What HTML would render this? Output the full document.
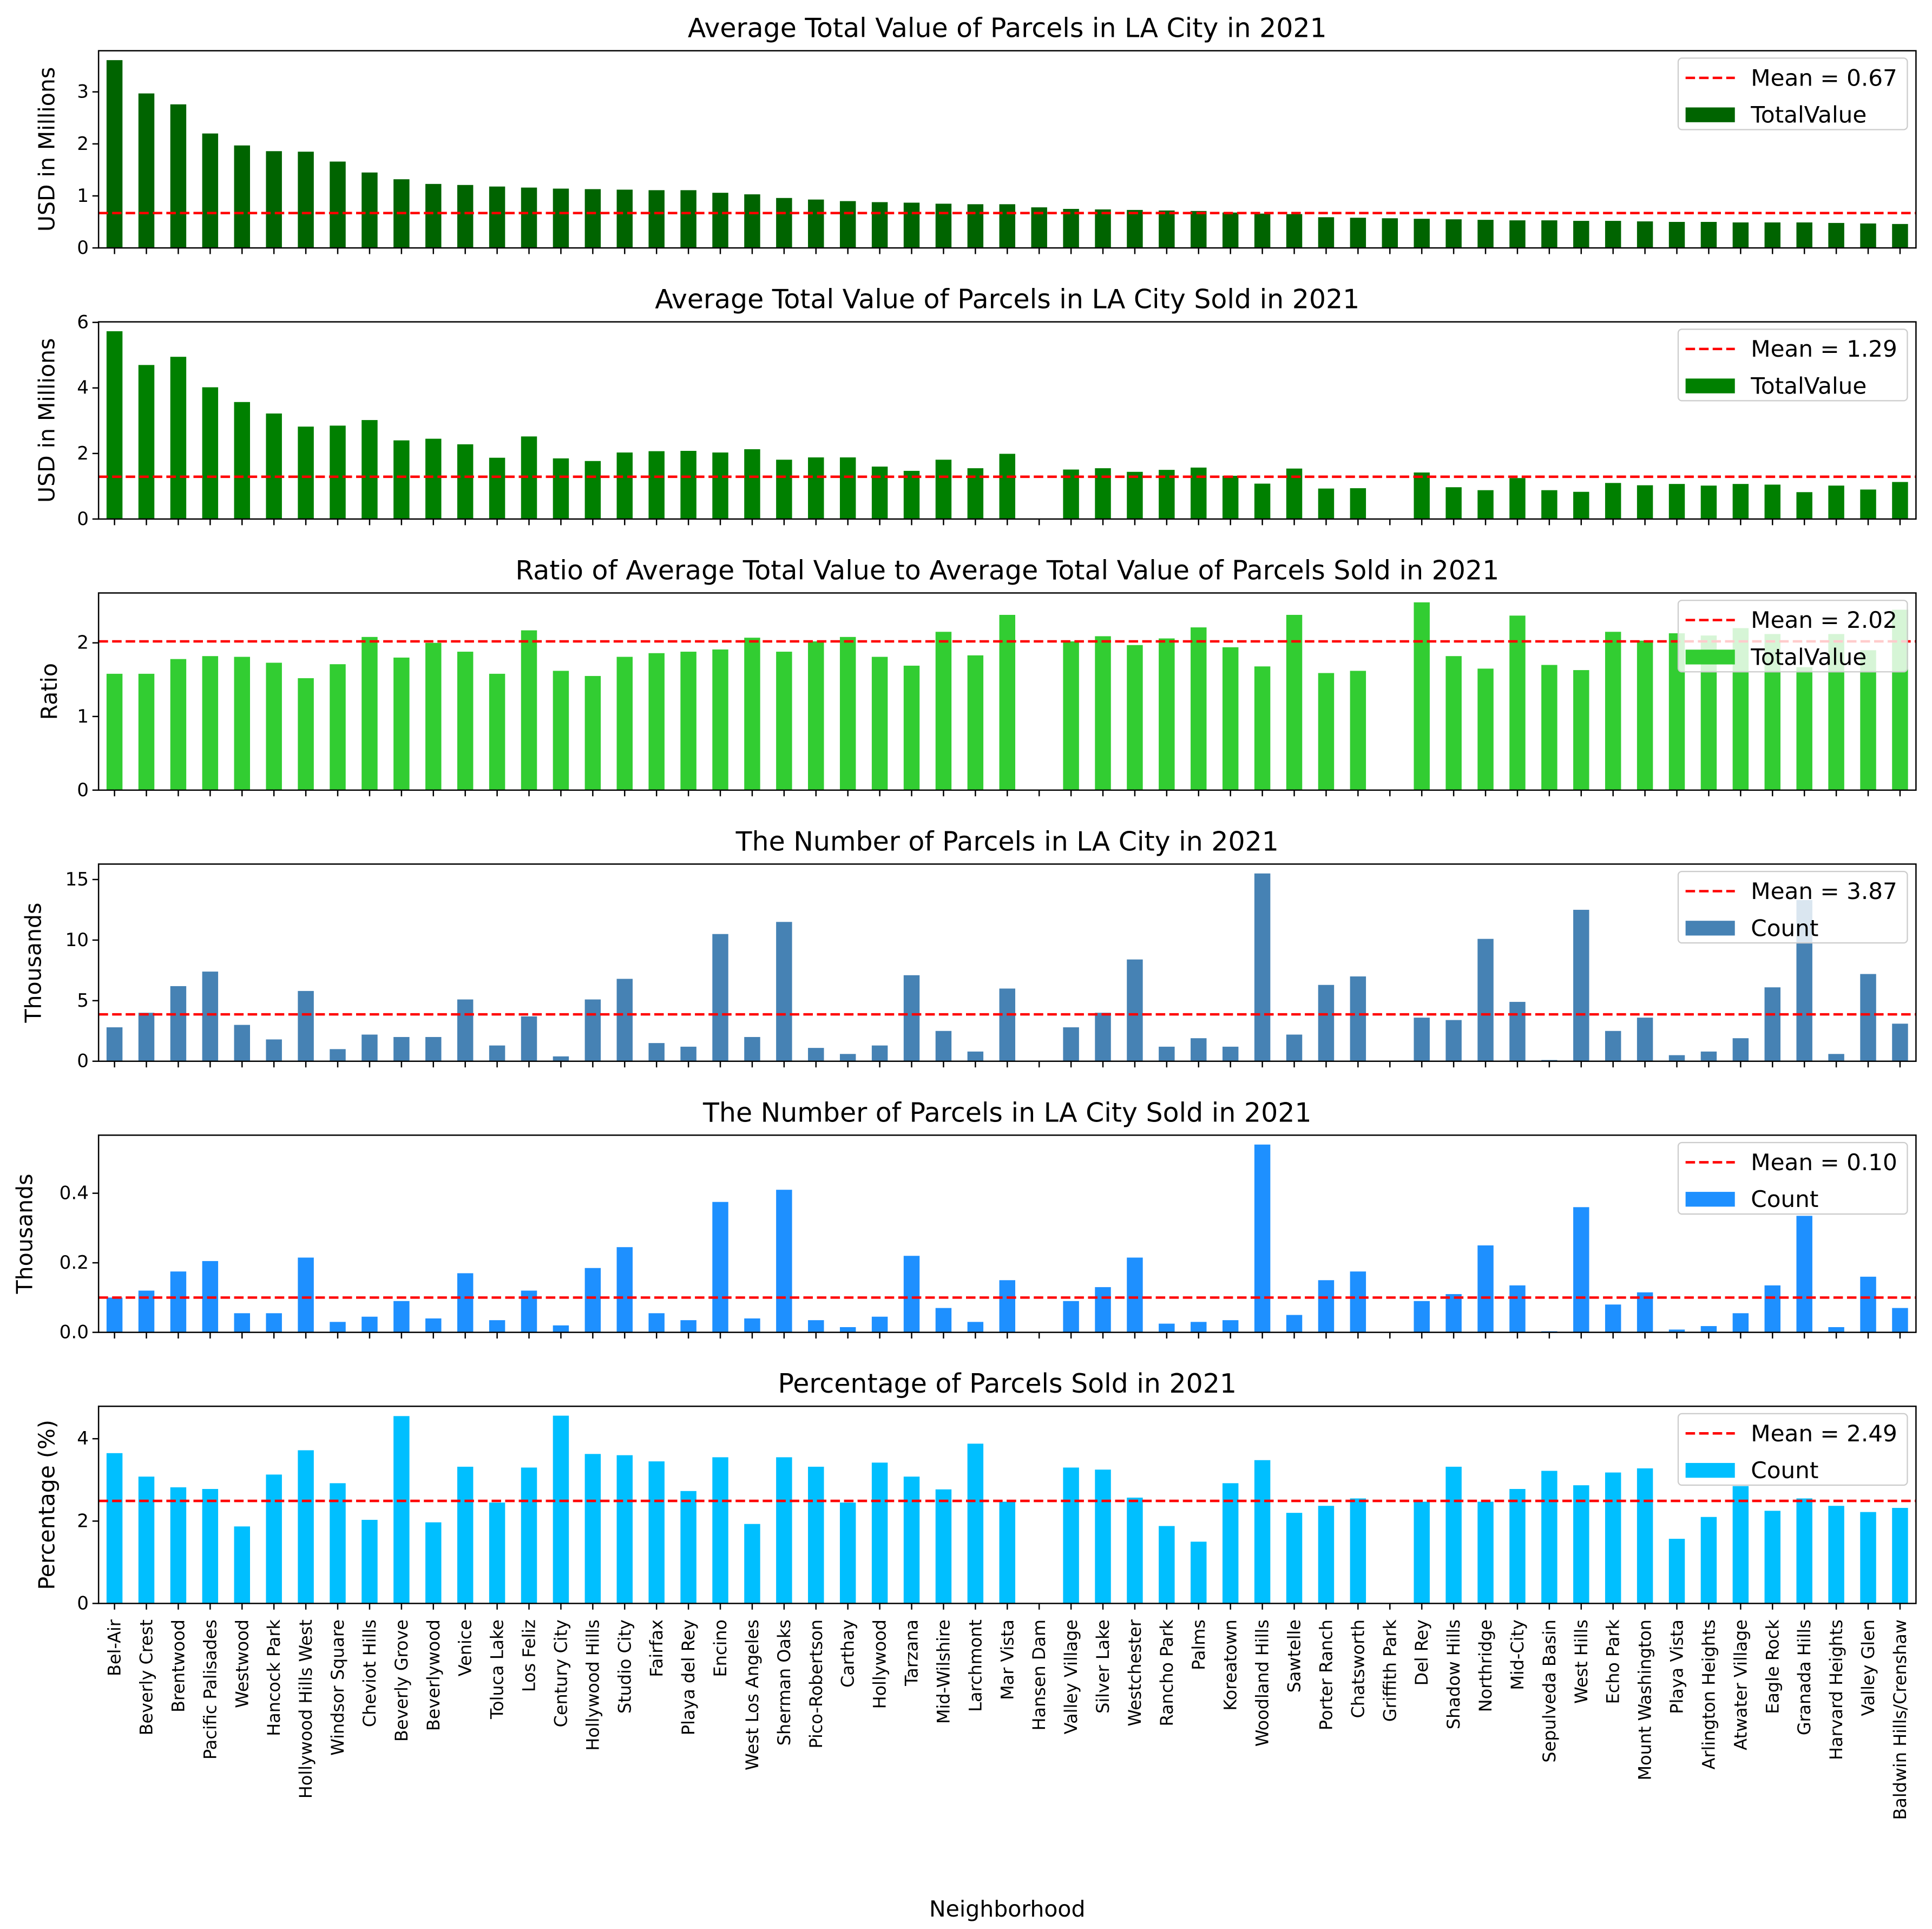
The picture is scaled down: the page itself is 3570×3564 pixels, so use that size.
<!DOCTYPE html>
<html><head><meta charset="utf-8">
<style>
html,body{margin:0;padding:0;background:#fff;}
svg{display:block;font-family:"DejaVu Sans","Liberation Sans",sans-serif;}
</style></head>
<body>
<svg id="fig" xmlns="http://www.w3.org/2000/svg" width="3570" height="3564" viewBox="0 0 1568 1565">
<rect x="0" y="0" width="1568" height="1565" fill="#fff"/>
</svg>
<script>
const categories = ["Bel-Air","Beverly Crest","Brentwood","Pacific Palisades","Westwood","Hancock Park","Hollywood Hills West","Windsor Square","Cheviot Hills","Beverly Grove","Beverlywood","Venice","Toluca Lake","Los Feliz","Century City","Hollywood Hills","Studio City","Fairfax","Playa del Rey","Encino","West Los Angeles","Sherman Oaks","Pico-Robertson","Carthay","Hollywood","Tarzana","Mid-Wilshire","Larchmont","Mar Vista","Hansen Dam","Valley Village","Silver Lake","Westchester","Rancho Park","Palms","Koreatown","Woodland Hills","Sawtelle","Porter Ranch","Chatsworth","Griffith Park","Del Rey","Shadow Hills","Northridge","Mid-City","Sepulveda Basin","West Hills","Echo Park","Mount Washington","Playa Vista","Arlington Heights","Atwater Village","Eagle Rock","Granada Hills","Harvard Heights","Valley Glen","Baldwin Hills/Crenshaw"];
const avgValue = [3.61,2.97,2.76,2.20,1.97,1.86,1.85,1.66,1.45,1.32,1.23,1.21,1.18,1.16,1.14,1.13,1.12,1.11,1.11,1.06,1.03,0.96,0.93,0.90,0.88,0.87,0.85,0.84,0.84,0.78,0.75,0.74,0.73,0.72,0.71,0.68,0.66,0.65,0.59,0.58,0.57,0.56,0.55,0.54,0.53,0.53,0.52,0.52,0.51,0.50,0.50,0.49,0.49,0.49,0.48,0.47,0.46];
const avgSoldValue = [5.73,4.70,4.95,4.02,3.57,3.22,2.82,2.85,3.02,2.40,2.45,2.28,1.87,2.52,1.85,1.77,2.03,2.07,2.08,2.03,2.13,1.81,1.88,1.88,1.60,1.47,1.81,1.55,1.99,null,1.51,1.55,1.44,1.50,1.57,1.32,1.08,1.54,0.93,0.94,null,1.42,0.97,0.88,1.25,0.88,0.83,1.10,1.03,1.07,1.02,1.07,1.05,0.82,1.02,0.90,1.13];
const ratioValue = [1.58,1.58,1.78,1.82,1.81,1.73,1.52,1.71,2.08,1.80,2.00,1.88,1.58,2.17,1.62,1.55,1.81,1.86,1.88,1.91,2.07,1.88,2.02,2.08,1.81,1.69,2.15,1.83,2.38,null,2.02,2.09,1.97,2.06,2.21,1.94,1.68,2.38,1.59,1.62,null,2.55,1.82,1.65,2.37,1.70,1.63,2.15,2.03,2.13,2.10,2.20,2.12,1.67,2.12,1.90,2.45];
const parcelCount = [2.8,4.0,6.2,7.4,3.0,1.8,5.8,1.0,2.2,2.0,2.0,5.1,1.3,3.7,0.4,5.1,6.8,1.5,1.2,10.5,2.0,11.5,1.1,0.6,1.3,7.1,2.5,0.8,6.0,0,2.8,4.0,8.4,1.2,1.9,1.2,15.5,2.2,6.3,7.0,0,3.6,3.4,10.1,4.9,0.1,12.5,2.5,3.6,0.5,0.8,1.9,6.1,13.3,0.6,7.2,3.1];
const soldCount = [0.10,0.12,0.175,0.205,0.055,0.055,0.215,0.03,0.045,0.09,0.04,0.17,0.035,0.12,0.02,0.185,0.245,0.055,0.035,0.375,0.04,0.41,0.035,0.015,0.045,0.22,0.07,0.03,0.15,0,0.09,0.13,0.215,0.025,0.03,0.035,0.54,0.05,0.15,0.175,0,0.09,0.11,0.25,0.135,0.003,0.36,0.08,0.115,0.008,0.018,0.055,0.135,0.335,0.015,0.16,0.07];
const pctSold = [3.65,3.08,2.82,2.78,1.87,3.13,3.72,2.92,2.03,4.55,1.97,3.32,2.45,3.30,4.56,3.63,3.60,3.45,2.73,3.55,1.93,3.55,3.32,2.45,3.42,3.08,2.77,3.88,2.47,null,3.30,3.25,2.57,1.88,1.50,2.92,3.48,2.20,2.37,2.55,null,2.47,3.32,2.47,2.78,3.22,2.87,3.18,3.28,1.57,2.10,2.85,2.25,2.55,2.37,2.22,2.32];
const meanValues = [0.67,1.29,2.02,3.87,0.10,2.49];
const meanLabels = ["Mean = 0.67","Mean = 1.29","Mean = 2.02","Mean = 3.87","Mean = 0.10","Mean = 2.49"];
const yTicks1 = [0,1,2,3];
const yTicks2 = [0,2,4,6];
const yTicks3 = [0,1,2];
const yTicks4 = [0,5,10,15];
const yTicks5 = [0.0,0.2,0.4];
const yTickLabels5 = ["0.0","0.2","0.4"];
const yTicks6 = [0,2,4];

const panels = [
 {name:"avg-total-value",title:"Average Total Value of Parcels in LA City in 2021",ylabel:"USD in Millions",ylx:38,data:avgValue,ticks:yTicks1,color:"#006400",series:"TotalValue"},
 {name:"avg-sold-value",title:"Average Total Value of Parcels in LA City Sold in 2021",ylabel:"USD in Millions",ylx:38,data:avgSoldValue,ticks:yTicks2,color:"#008000",series:"TotalValue"},
 {name:"value-ratio",title:"Ratio of Average Total Value to Average Total Value of Parcels Sold in 2021",ylabel:"Ratio",ylx:40,data:ratioValue,ticks:yTicks3,color:"#32CD32",series:"TotalValue"},
 {name:"parcel-count",title:"The Number of Parcels in LA City in 2021",ylabel:"Thousands",ylx:27,data:parcelCount,ticks:yTicks4,color:"#4682B4",series:"Count"},
 {name:"sold-count",title:"The Number of Parcels in LA City Sold in 2021",ylabel:"Thousands",ylx:20,data:soldCount,ticks:yTicks5,tickLabels:yTickLabels5,color:"#1E90FF",series:"Count"},
 {name:"pct-sold",title:"Percentage of Parcels Sold in 2021",ylabel:"Percentage (%)",ylx:38,data:pctSold,ticks:yTicks6,color:"#00BFFF",series:"Count"}
];
const NS="http://www.w3.org/2000/svg";
const svg=document.getElementById("fig");
function mk(tag,attrs,parent){const e=document.createElementNS(NS,tag);for(const k in attrs)e.setAttribute(k,attrs[k]);(parent||svg).appendChild(e);return e;}
const L=80,R=1555,H=160;
const n=categories.length;
const unit=(R-L)/n;
function xPos(i){return L+(i+0.5)*unit;}

panels.forEach((p,pi)=>{
 const top=41+pi*220, bot=top+H;
 const g=mk("g",{});
 
 
 const vals=p.data.filter(v=>v!=null);
 const ymax=Math.max(...vals)*1.05;
 const yPos=v=>bot-(v/ymax)*H;
 p.data.forEach((v,i)=>{
  if(v==null)return;
  const r=mk("rect",{x:xPos(i)-unit*0.25,y:yPos(v),width:unit*0.5,height:bot-yPos(v),fill:p.color},g);
  
  
 });
 const ml=mk("line",{x1:L,x2:R,y1:yPos(meanValues[pi]),y2:yPos(meanValues[pi]),stroke:"#ff0000","stroke-width":2,"stroke-dasharray":"7.7 3.3"},g);
 
 
 const fr=mk("rect",{x:L,y:top,width:R-L,height:H,fill:"none",stroke:"#000","stroke-width":1.1},g);
 
 
 p.ticks.forEach((t,ti)=>{
  const y=yPos(t);
  mk("line",{x1:L-5,x2:L,y1:y,y2:y,stroke:"#000","stroke-width":1.1},g);
  const tx=mk("text",{x:L-8,y:y,"font-size":15,"text-anchor":"end","dominant-baseline":"central"},g);
  tx.textContent=p.tickLabels?p.tickLabels[ti]:String(t);
  
  
 });
 categories.forEach((c,i)=>{mk("line",{x1:xPos(i),x2:xPos(i),y1:bot,y2:bot+5,stroke:"#000","stroke-width":1.1},g);});
 const tt=mk("text",{x:(L+R)/2,y:top-11,"font-size":21.5,"text-anchor":"middle"},g);
 tt.textContent=p.title;
 
 
 const yl=mk("text",{x:0,y:0,"font-size":18,"text-anchor":"middle","dominant-baseline":"central",transform:`translate(${p.ylx},${top+H/2}) rotate(-90)`},g);
 yl.textContent=p.ylabel;
 
 
 const lg=mk("g",{},g);
 
 
 mk("rect",{x:1362,y:top+6,width:186,height:58,rx:3,fill:"#fff","fill-opacity":0.8,stroke:"#ccc","stroke-width":1},lg);
 mk("line",{x1:1368,x2:1408,y1:top+22,y2:top+22,stroke:"#ff0000","stroke-width":2,"stroke-dasharray":"7.7 3.3"},lg);
 const t1=mk("text",{x:1421,y:top+22,"font-size":18.5,"dominant-baseline":"central"},lg);
 t1.textContent=meanLabels[pi];
 mk("rect",{x:1368,y:top+46,width:40,height:12,fill:p.color},lg);
 const t2=mk("text",{x:1421,y:top+52,"font-size":18.5,"dominant-baseline":"central"},lg);
 t2.textContent=p.series;
 if(pi===5){
  categories.forEach((c,i)=>{
   const xt=mk("text",{x:0,y:0,"font-size":14,"text-anchor":"end","dominant-baseline":"central",transform:`translate(${xPos(i)},${bot+13}) rotate(-90)`},g);
   xt.textContent=c;
   
   
  });
 }
});
const xl=mk("text",{x:(L+R)/2,y:1555,"font-size":18,"text-anchor":"middle"});
xl.textContent="Neighborhood";


</script>
</body></html>
